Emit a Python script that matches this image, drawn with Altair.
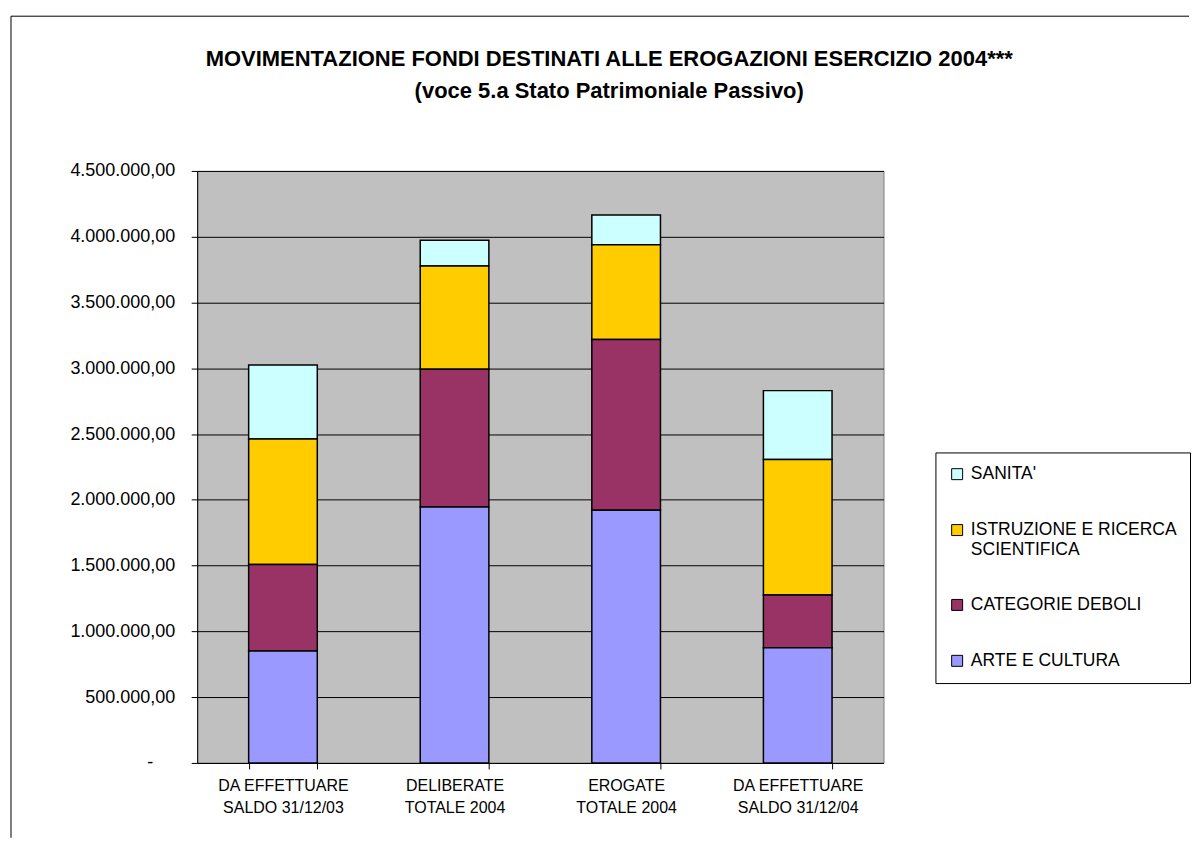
import altair as alt
import pandas as pd

cat_line1 = ["DA EFFETTUARE", "DELIBERATE", "EROGATE", "DA EFFETTUARE"]
cat_line2 = ["SALDO 31/12/03", "TOTALE 2004", "TOTALE 2004", "SALDO 31/12/04"]
categories = [a + "|" + b for a, b in zip(cat_line1, cat_line2)]

series_names = ["SANITA'", "ISTRUZIONE E RICERCA SCIENTIFICA", "CATEGORIE DEBOLI", "ARTE E CULTURA"]
series_colors = ["#CCFFFF", "#FFCC00", "#993366", "#9999FF"]
stack_rank = [3, 2, 1, 0]

arte = [850000, 1945000, 1920000, 875000]
categorie = [658000, 1047000, 1299000, 402000]
istruzione = [955000, 786000, 719000, 1030000]
sanita = [562000, 195000, 227000, 523000]

y_ticks = [0, 500000, 1000000, 1500000, 2000000, 2500000, 3000000, 3500000, 4000000, 4500000]

values_by_series = {
    "SANITA'": sanita,
    "ISTRUZIONE E RICERCA SCIENTIFICA": istruzione,
    "CATEGORIE DEBOLI": categorie,
    "ARTE E CULTURA": arte,
}
rows = []
for name, rank in zip(series_names, stack_rank):
    for c, v in zip(categories, values_by_series[name]):
        rows.append({"cat": c, "serie": name, "valore": v, "rank": rank})
df = pd.DataFrame(rows)

FONT = "Liberation Sans"

bars = alt.Chart(df).mark_bar(stroke="black", strokeWidth=1.5).encode(
    x=alt.X("cat:N", sort=categories, title=None,
            scale=alt.Scale(paddingInner=0.6, paddingOuter=0.3),
            axis=alt.Axis(labelAngle=0, labelExpr="split(datum.label, '|')",
                          labelFontSize=16, labelLineHeight=22, labelPadding=9,
                          tickBand="extent", tickSize=6, tickColor="black",
                          domainColor="black", labelColor="black", labelFont=FONT)),
    y=alt.Y("valore:Q", stack="zero", title=None,
            scale=alt.Scale(domain=[0, 4500000], nice=False),
            axis=alt.Axis(values=y_ticks, format=",.2f",
                          labelExpr="datum.value == 0 ? '-' : datum.label",
                          labelFontSize=18, labelFont=FONT, labelColor="black",
                          labelPadding={"condition": {"test": "datum.value == 0", "value": 38.5},
                                        "value": 16.5},
                          tickSize=6, tickColor="black", domainColor="black",
                          grid=True, gridColor="black", gridOpacity=1, gridWidth=1)),
    color=alt.Color("serie:N", title=None,
                    scale=alt.Scale(domain=series_names, range=series_colors),
                    legend=alt.Legend(orient="none", legendX=739.5, legendY=282,
                                      symbolType="square", symbolSize=121,
                                      symbolStrokeColor="black", symbolStrokeWidth=1,
                                      labelFontSize=17.5, labelFont=FONT, labelColor="black",
                                      labelOffset=5, labelLimit=400,
                                      labelExpr="datum.label == 'ISTRUZIONE E RICERCA SCIENTIFICA' ? ['ISTRUZIONE E RICERCA', 'SCIENTIFICA'] : datum.label",
                                      rowPadding=37, padding=13,
                                      strokeColor="black", fillColor="white")),
    order=alt.Order("rank:Q", sort="ascending"),
)

frame_data = alt.Data(values=[{"k": 1}])
top_border = alt.Chart(frame_data).mark_rule(color="black", strokeWidth=1).encode(
    x=alt.value(-186.5), x2=alt.value(993.5), y=alt.value(-155))
left_border = alt.Chart(frame_data).mark_rule(color="black", strokeWidth=1).encode(
    x=alt.value(-186.5), y=alt.value(-155), y2=alt.value(668))

chart = alt.layer(bars, top_border, left_border).properties(
    width=687.5, height=593,
    padding={"left": 2.5, "top": 6.5, "right": 0, "bottom": 0},
    title=alt.TitleParams(
        text=["MOVIMENTAZIONE FONDI DESTINATI ALLE EROGAZIONI ESERCIZIO 2004***",
              "(voce 5.a Stato Patrimoniale Passivo)"],
        font=FONT, fontSize=22, fontWeight="bold", color="black",
        lineHeight=32, anchor="middle", dx=69, offset=-87),
).configure(
    locale={"number": {"decimal": ",", "thousands": ".", "grouping": [3], "currency": ["€", ""]}}
).configure_view(
    fill="#C0C0C0", stroke="#808080"
)

chart.save("out.html", embed_options={"renderer": "svg", "actions": False})
